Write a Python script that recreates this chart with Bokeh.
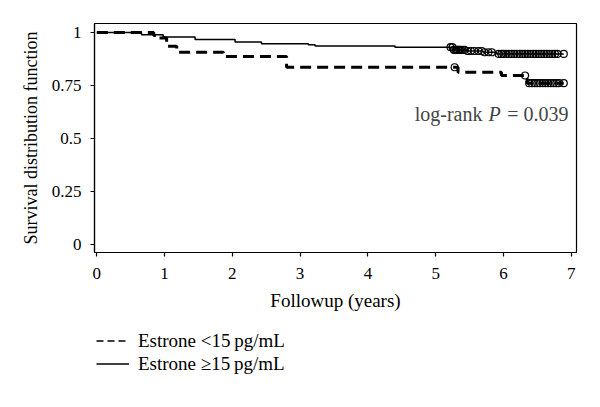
import numpy as np
from bokeh.plotting import figure
from bokeh.layouts import column
from bokeh.models import (ColumnDataSource, FixedTicker, CustomJSTickFormatter,
                          Label, Legend, LegendItem, Range1d)
from bokeh.embed import file_html
from bokeh.resources import INLINE

# ---- data ----
low_times = [0, 0.84, 0.92, 1.03, 1.18, 1.87, 2.80, 5.33, 5.97, 6.35, 6.89]
low_surv = [1.0, 0.986, 0.975, 0.935, 0.907, 0.887, 0.836, 0.813, 0.797, 0.761, 0.761]
low_censor = [5.28, 6.32, 6.38, 6.42, 6.46, 6.50, 6.54, 6.58, 6.62, 6.66, 6.70,
              6.74, 6.78, 6.82, 6.89]

high_times = [0, 0.66, 0.98, 1.45, 2.04, 2.43, 3.12, 3.22, 4.40, 5.26, 5.45, 5.70,
              5.90, 6.89]
high_surv = [1.0, 0.990, 0.979, 0.967, 0.956, 0.947, 0.942, 0.937, 0.931, 0.918,
             0.913, 0.907, 0.899, 0.899]
high_censor = [5.22, 5.25, 5.27, 5.29, 5.31, 5.33, 5.35, 5.37, 5.40, 5.43, 5.47,
               5.52, 5.57, 5.63, 5.68, 5.72, 5.78, 5.83, 5.93, 5.97, 6.00, 6.04,
               6.08, 6.12, 6.16, 6.20, 6.24, 6.28, 6.32, 6.36, 6.40, 6.44, 6.48,
               6.52, 6.56, 6.60, 6.64, 6.68, 6.72, 6.76, 6.80, 6.89]

x_ticks = [0, 1, 2, 3, 4, 5, 6, 7]
y_ticks = [0, 0.25, 0.5, 0.75, 1]
legend_labels = ["Estrone <15\u2009pg/mL", "Estrone \u226515\u2009pg/mL"]


def surv_at(times, surv, ts):
    idx = np.searchsorted(np.array(times), np.array(ts), side="right") - 1
    return [surv[i] for i in idx]


SERIF = "Liberation Serif"

p = figure(width=584, height=320, output_backend="svg", toolbar_location=None,
           x_range=Range1d(-0.034, 7.078), y_range=Range1d(-0.040, 1.043),
           min_border_left=94, min_border_right=8, min_border_top=23,
           min_border_bottom=68)
p.background_fill_color = "white"
p.border_fill_color = "white"
p.outline_line_color = "black"
p.outline_line_width = 1.2
p.xgrid.visible = False
p.ygrid.visible = False

low_src = ColumnDataSource(dict(t=low_times, s=low_surv))
high_src = ColumnDataSource(dict(t=high_times, s=high_surv))
p.step("t", "s", source=high_src, mode="after", line_color="black", line_width=1.5)
p.step("t", "s", source=low_src, mode="after", line_color="black", line_width=3,
       line_dash="11 6")

p.scatter(high_censor, surv_at(high_times, high_surv, high_censor), marker="circle",
          size=7, line_color="black", line_width=1.2, fill_alpha=0)
p.scatter(low_censor, surv_at(low_times, low_surv, low_censor), marker="circle",
          size=7, line_color="black", line_width=1.2, fill_alpha=0)

for ax in (p.xaxis[0], p.yaxis[0]):
    ax.axis_line_color = "black"
    ax.axis_line_width = 1.2
    ax.major_tick_line_color = "black"
    ax.major_tick_line_width = 1.2
    ax.major_tick_out = 4
    ax.major_tick_in = 0
    ax.minor_tick_line_color = None
    ax.major_label_text_font = SERIF
    ax.major_label_text_font_size = "17px"
    ax.major_label_text_color = "black"
    ax.axis_label_text_font = SERIF
    ax.axis_label_text_font_style = "normal"
    ax.axis_label_text_color = "black"

p.xaxis.axis_label_text_font_size = "19px"
p.yaxis.axis_label_text_font_size = "18px"
p.xaxis.ticker = FixedTicker(ticks=x_ticks)
p.yaxis.ticker = FixedTicker(ticks=y_ticks)
p.yaxis.formatter = CustomJSTickFormatter(code="return tick.toString()")
p.xaxis.axis_label = "Followup (years)"
p.yaxis.axis_label = "Survival distribution function"
p.xaxis.major_label_standoff = 11
p.xaxis.axis_label_standoff = 8
p.yaxis.major_label_standoff = 9
p.yaxis.axis_label_standoff = 8

# log-rank annotation
p.add_layout(Label(x=5.69, y=0.616, text="log-rank", text_font=SERIF,
                   text_font_size="20px", text_align="right",
                   text_baseline="alphabetic"))
p.add_layout(Label(x=5.78, y=0.616, text="P", text_font=SERIF,
                   text_font_size="20px", text_font_style="italic",
                   text_baseline="alphabetic"))
p.add_layout(Label(x=6.960, y=0.616, text="= 0.039", text_font=SERIF,
                   text_font_size="20px", text_align="right",
                   text_baseline="alphabetic"))

# legend panel below the chart
q = figure(width=584, height=71, output_backend="svg", toolbar_location=None,
           x_range=Range1d(0, 1), y_range=Range1d(0, 1),
           x_axis_location=None, y_axis_location=None,
           min_border_left=0, min_border_right=0, min_border_top=0,
           min_border_bottom=0)
q.outline_line_color = None
q.xgrid.visible = False
q.ygrid.visible = False
leg_low = q.line(x=[np.nan, np.nan], y=[np.nan, np.nan], line_color="black",
                 line_width=1.3, line_dash="7 4")
leg_high = q.line(x=[np.nan, np.nan], y=[np.nan, np.nan], line_color="black",
                  line_width=1.3)
legend = Legend(items=[LegendItem(label=legend_labels[0], renderers=[leg_low]),
                       LegendItem(label=legend_labels[1], renderers=[leg_high])],
                location=(2, 16), orientation="vertical",
                glyph_width=33, glyph_height=23, label_height=23,
                label_standoff=9, spacing=0, padding=0, margin=0,
                border_line_color=None, background_fill_alpha=0,
                label_text_font=SERIF, label_text_font_size="19px",
                label_text_color="black")
q.add_layout(legend, "center")

layout = column(p, q, spacing=0)
open("out.html", "w").write(file_html(layout, INLINE))
